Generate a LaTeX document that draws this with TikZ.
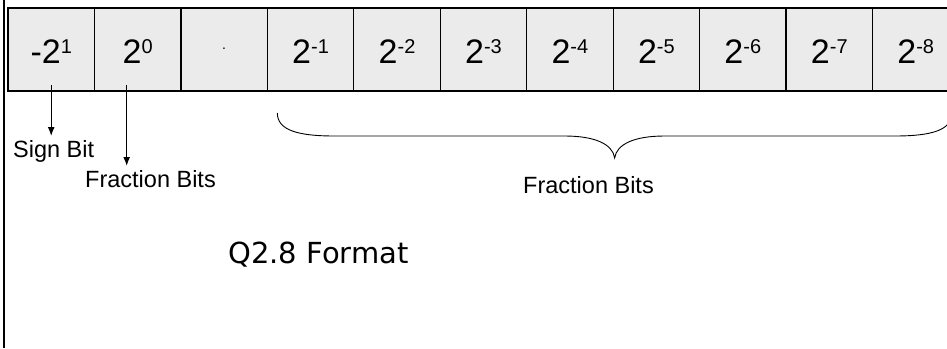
\documentclass[tikz,border=0pt]{standalone}
\usepackage{fontspec}
\setmainfont{Liberation Sans}
\newfontfamily\titlefont{DejaVu Sans}
\usetikzlibrary{arrows.meta,calc}
\definecolor{cellgray}{RGB}{235,235,235}
% superscript exponent, raised above the base digit
\newcommand\pw[1]{\raisebox{9.5pt}{\fontsize{20}{20}\selectfont #1}}
\begin{document}
\begin{tikzpicture}[x=1pt,y=-1pt,
  cell/.style={fill=cellgray,draw=none,minimum width=86.45pt,minimum height=83pt,inner sep=0pt,outer sep=0pt},
  celltext/.style={anchor=base,inner sep=0pt,font=\fontsize{34}{34}\selectfont},
  lbl/.style={inner sep=0pt,font=\fontsize{23.5}{23.5}\selectfont},
  sep/.style={line width=1.3pt},
  ptr/.style={line width=1.3pt,-{Latex[length=9pt,width=7pt]}}]
  \useasboundingbox (0,0) rectangle (947,348);
  \clip (0,0) rectangle (947,348);
  \fill[white] (0,0) rectangle (947,348);
  % left rule
  \draw[line width=2pt] (4,0) -- (4,348);
  % register cells
  \foreach \i/\t in {1/-2\pw{1},2/2\pw{0},3/{},4/2\pw{-1},5/2\pw{-2},6/2\pw{-3},
                     7/2\pw{-4},8/2\pw{-5},9/2\pw{-6},10/2\pw{-7},11/2\pw{-8}}{
    \node[cell] (c\i) at ({8+86.45*(\i-0.5)},49.5) {};
    \node[celltext] (t\i) at ($(c\i.center)+(0,13.5)$) {\t};
  }
  \node[anchor=base,inner sep=0pt,font=\fontsize{14}{14}\selectfont] (dot) at ($(c3.center)+(0,-0.5)$) {.};
  \foreach \i in {1,...,10}{
    \draw[sep] (c\i.north east) -- (c\i.south east);
  }
  \draw[line width=2.6pt] (c1.north west) rectangle (c11.south east);
  % labels
  \node[lbl,anchor=base west] (sign) at (13,157) {Sign Bit};
  \node[lbl,anchor=base west] (frac1) at (85,187) {Fraction Bits};
  \node[lbl,anchor=base west] (frac2) at (523,193) {Fraction Bits};
  \draw[ptr] ($(c1.south)+(0,-6)$) -- ($(c1.south)+(0,45)$);
  \draw[ptr] ($(c2.south)+(-11,-6)$) -- ($(c2.south)+(-11,75)$);
  % brace over the fraction cells
  \coordinate (bl) at ($(c4.south west)+(10,22)$);
  \coordinate (br) at ($(c11.south east)+(-7,22)$);
  \coordinate (tip) at ($(bl)!0.5!(br)+(0,45)$);
  \draw[line width=0.9pt] (bl) .. controls ($(bl)+(0,17)$) and ($(bl)+(20,23)$) .. ($(bl)+(57,23)$)
    -- ($(tip)+(-50,-22)$) .. controls ($(tip)+(-20,-22)$) and ($(tip)+(-2,-14)$) .. (tip)
    .. controls ($(tip)+(2,-14)$) and ($(tip)+(20,-22)$) .. ($(tip)+(50,-22)$)
    -- ($(br)+(-57,23)$) .. controls ($(br)+(-20,23)$) and ($(br)+(0,17)$) .. (br);
  % title
  \node[inner sep=0pt,anchor=base west,font=\titlefont\fontsize{29}{29}\selectfont] (title) at (228,263) {Q2.8 Format};
\end{tikzpicture}
\end{document}
